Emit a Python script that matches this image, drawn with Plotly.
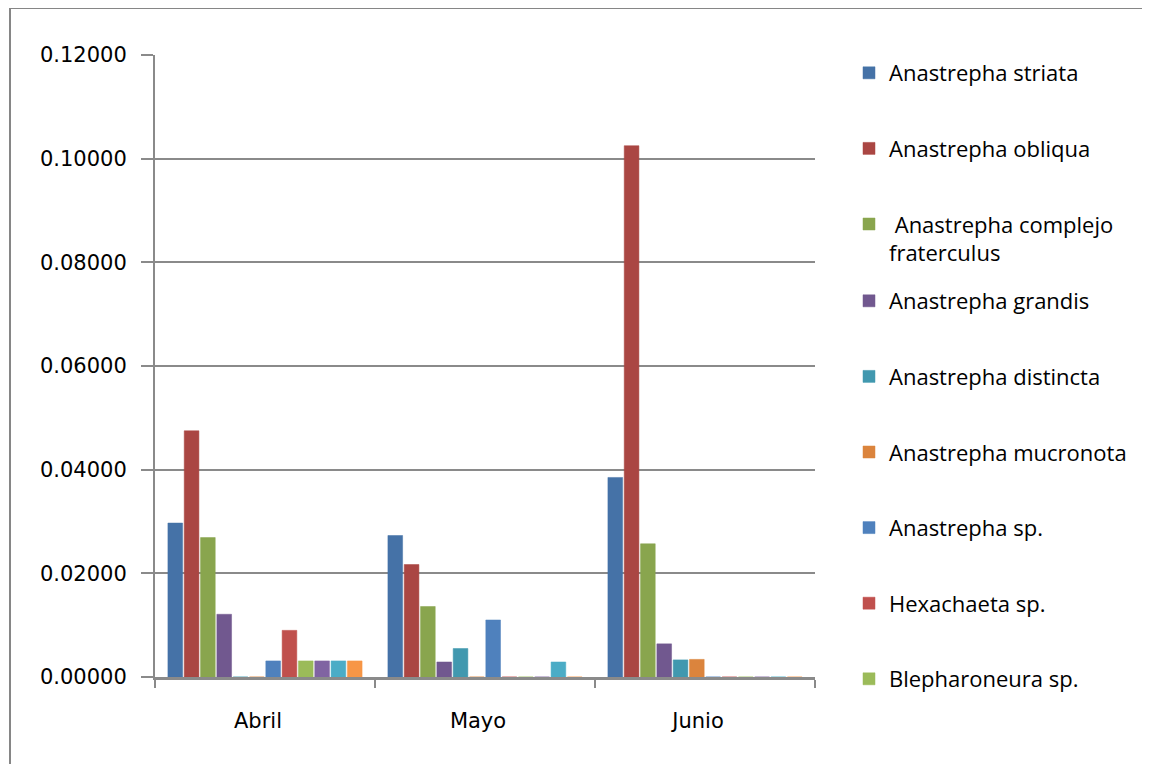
import plotly.graph_objects as go

months = ["Abril", "Mayo", "Junio"]

series_names = [
    "Anastrepha striata",
    "Anastrepha obliqua",
    " Anastrepha complejo<br>fraterculus",
    "Anastrepha grandis",
    "Anastrepha distincta",
    "Anastrepha mucronota",
    "Anastrepha sp.",
    "Hexachaeta sp.",
    "Blepharoneura sp.",
    "Serie 10",
    "Serie 11",
    "Serie 12",
]

striata = [0.0297, 0.0273, 0.0385]
obliqua = [0.0475, 0.0217, 0.1025]
fraterculus = [0.0269, 0.0136, 0.0257]
grandis = [0.0121, 0.0029, 0.0064]
distincta = [0.0, 0.0055, 0.0033]
mucronota = [0.0, 0.0, 0.0034]
anastrepha_sp = [0.0031, 0.0110, 0.0]
hexachaeta = [0.0090, 0.0, 0.0]
blepharoneura = [0.0031, 0.0, 0.0]
serie10 = [0.0031, 0.0, 0.0]
serie11 = [0.0031, 0.0029, 0.0]
serie12 = [0.0031, 0.0, 0.0]

values = [striata, obliqua, fraterculus, grandis, distincta, mucronota,
          anastrepha_sp, hexachaeta, blepharoneura, serie10, serie11, serie12]

colors = ["#4572A7", "#AA4643", "#89A54E", "#71588F", "#4198AF", "#DB843D",
          "#4F81BD", "#C0504D", "#9BBB59", "#8064A2", "#4BACC6", "#F79646"]

y_ticks = [0.0, 0.02, 0.04, 0.06, 0.08, 0.10, 0.12]

fig = go.Figure()
for i, (name, vals, col) in enumerate(zip(series_names, values, colors)):
    fig.add_trace(go.Bar(
        x=months, y=vals, name=name,
        marker=dict(color=col, line=dict(color=col, width=0.5)),
        legendgroup="g%d" % i,
        showlegend=(i < 9),
        legend="legend" if i < 3 else "legend2",
    ))

# page is shown with an 8px body margin, so figure coords = screen - 8
OFF = 8
W, H = 1150 - OFF, 764 - OFF
L = 155 - OFF
T = 55 - OFF
plot_right = 815 - OFF
plot_bottom = 677 - OFF
R = W - plot_right
B = H - plot_bottom
pw = W - L - R
ph = H - T - B

def px(xs):
    return (xs - OFF - L) / pw

def py(ys):
    return (plot_bottom - (ys - OFF)) / ph

legend_font = dict(family="Open Sans", size=22, color="#000000")

border = dict(color="#868686", width=2)

fig.update_layout(
    width=W, height=H,
    margin=dict(l=L, r=R, t=T, b=B, pad=0, autoexpand=False),
    paper_bgcolor="white", plot_bgcolor="white",
    barmode="group", bargap=0.11, bargroupgap=0.1,
    font=dict(family="DejaVu Sans", size=20, color="#000000"),
    legend=dict(
        x=px(849), xanchor="left", y=py(52), yanchor="top",
        font=legend_font, tracegroupgap=44, valign="top",
        itemwidth=30, bgcolor="rgba(0,0,0,0)",
    ),
    legend2=dict(
        x=px(849), xanchor="left", y=py(280), yanchor="top",
        font=legend_font, tracegroupgap=44, valign="top",
        itemwidth=30, bgcolor="rgba(0,0,0,0)",
    ),
    xaxis=dict(
        showline=True, linecolor="#8A8A8A", linewidth=3,
        ticks="outside", tickson="boundaries", ticklen=8, tickwidth=2,
        tickcolor="#8A8A8A",
        tickfont=dict(family="DejaVu Sans", size=21, color="#000000"),
        ticklabelstandoff=23, ticklabelshift=-7,
        showgrid=False, zeroline=False,
    ),
    yaxis=dict(
        range=[0, 0.12], tickvals=y_ticks, tickformat=".5f",
        showline=True, linecolor="#8A8A8A", linewidth=2,
        ticks="outside", ticklen=12, tickwidth=2, tickcolor="#8A8A8A",
        tickfont=dict(family="DejaVu Sans", size=21, color="#000000"),
        ticklabelstandoff=10,
        showgrid=True, gridcolor="#8A8A8A", gridwidth=2,
        zeroline=False,
    ),
    shapes=[
        dict(type="line", xref="paper", yref="paper",
             x0=px(10), x1=px(1200), y0=py(8), y1=py(8), line=border),
        dict(type="line", xref="paper", yref="paper",
             x0=px(10), x1=px(10), y0=py(8), y1=py(820), line=border),
    ],
)

fig.write_html("out.html", config={"displayModeBar": False})
